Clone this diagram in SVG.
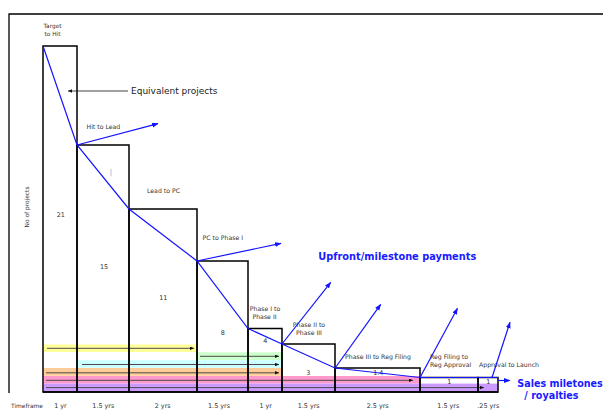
<svg xmlns="http://www.w3.org/2000/svg" width="603" height="412" viewBox="0 0 603 412">
<style>
.bar{fill:none;stroke:#000;stroke-width:1.5}
.lbl{font-family:"DejaVu Sans",Verdana,sans-serif;font-size:6.2px;fill:#333;text-anchor:middle}
.num{font-family:"DejaVu Sans",Verdana,sans-serif;font-size:6.4px;fill:#333;text-anchor:middle}
.blue{stroke:#1414ff;stroke-width:1.2;fill:none}
.marr{stroke:#1414ff;stroke-width:1.2;fill:none;marker-end:url(#bh)}
.big{font-family:"DejaVu Sans",Verdana,sans-serif;font-weight:bold;font-size:9.8px;fill:#1a1aff}
.bl{stroke:#4a4a4a;stroke-width:1;marker-end:url(#kh)}
</style>
<defs>
<marker id="bh" markerUnits="userSpaceOnUse" markerWidth="7" markerHeight="6" refX="6" refY="2.5" orient="auto"><path d="M0,0 L6.5,2.5 L0,5 z" fill="#1414ff"/></marker>
<marker id="kh" markerUnits="userSpaceOnUse" markerWidth="5" markerHeight="4" refX="4" refY="1.75" orient="auto"><path d="M0,0 L4,1.75 L0,3.5 z" fill="#111"/></marker>
</defs>
<rect width="603" height="412" fill="#fff"/>
<g id="frame">
<path d="M603,14 H9 V393" fill="none" stroke="#000" stroke-width="1.3"/>
<text x="27" y="207" transform="rotate(-90 27 207)" class="lbl" style="font-size:5.9px" dy="2">No of projects</text>
<text x="11" y="407.5" class="lbl" style="font-size:5.9px;text-anchor:start">Timeframe</text>
</g>
<g id="bands">
<rect x="44" y="344.5" width="152" height="7.5" fill="#FFFF99"/>
<rect x="197" y="352.3" width="84" height="7.7" fill="#CCFFCC"/>
<rect x="78" y="360.2" width="203" height="7.6" fill="#CCFFFF"/>
<rect x="44" y="368" width="237" height="7.8" fill="#FFCC99"/>
<rect x="44" y="376" width="376" height="7.6" fill="#FF99CC"/>
<rect x="44" y="383.6" width="454" height="8.4" fill="#CC99FF"/>
<line x1="47" y1="348.3" x2="194" y2="348.3" class="bl"/>
<line x1="200" y1="356.3" x2="279" y2="356.3" class="bl"/>
<line x1="82" y1="364.5" x2="279" y2="364.5" class="bl"/>
<line x1="46" y1="372.8" x2="279" y2="372.8" class="bl"/>
<line x1="46" y1="380.3" x2="413" y2="380.3" class="bl"/>
<line x1="46" y1="387.6" x2="484" y2="387.6" class="bl"/>
</g>
<g id="stage-target-to-hit">
<rect x="43" y="46" width="34" height="346" class="bar"/>
<text x="52.5" y="28" class="lbl" style="font-size:5.8px">Target</text>
<text x="52.5" y="35.5" class="lbl" style="font-size:5.8px">to Hit</text>
<text x="60.7" y="216.5" class="num">21</text>
<text x="60.5" y="407.5" class="num">1 yr</text>
</g>
<g id="stage-hit-to-lead">
<rect x="77" y="145" width="52" height="247" class="bar"/>
<text x="103.4" y="128.5" class="lbl">Hit to Lead</text>
<text x="104" y="268.5" class="num">15</text>
<line x1="111" y1="169" x2="111" y2="176" stroke="#999" stroke-width="0.6"/>
<text x="103.3" y="407.5" class="num">1.5 yrs</text>
</g>
<g id="stage-lead-to-pc">
<rect x="129" y="209" width="68" height="183" class="bar"/>
<text x="163.5" y="192.5" class="lbl">Lead to PC</text>
<text x="163.3" y="300" class="num">11</text>
<text x="162.7" y="407.5" class="num">2 yrs</text>
</g>
<g id="stage-pc-to-phase1">
<rect x="197" y="261" width="51" height="131" class="bar"/>
<text x="222.8" y="240" class="lbl">PC to Phase I</text>
<text x="222.7" y="335" class="num">8</text>
<text x="219" y="407.5" class="num">1.5 yrs</text>
</g>
<g id="stage-phase1-to-phase2">
<rect x="248" y="328.5" width="34" height="63.5" class="bar"/>
<text x="265" y="311" class="lbl">Phase I to</text>
<text x="264.5" y="319" class="lbl">Phase II</text>
<text x="265.3" y="343" class="num">4</text>
<text x="265.7" y="407.5" class="num">1 yr</text>
</g>
<g id="stage-phase2-to-phase3">
<rect x="282" y="344" width="53" height="48" class="bar"/>
<text x="309" y="327" class="lbl">Phase II to</text>
<text x="309" y="335" class="lbl">Phase III</text>
<text x="308.3" y="375" class="num">3</text>
<text x="308.7" y="407.5" class="num">1.5 yrs</text>
</g>
<g id="stage-phase3-to-filing">
<rect x="335" y="368" width="85" height="24" class="bar"/>
<text x="378" y="359" class="lbl">Phase III to Reg Filing</text>
<text x="378.3" y="375" class="num">1.4</text>
<text x="377.7" y="407.5" class="num">2.5 yrs</text>
</g>
<g id="stage-filing-to-approval">
<rect x="420" y="377.5" width="58" height="14.5" class="bar"/>
<text x="430" y="359" class="lbl" style="text-anchor:start">Reg Filing to</text>
<text x="430" y="367" class="lbl" style="text-anchor:start">Reg Approval</text>
<text x="449.3" y="383.5" class="num">1</text>
<text x="448.3" y="407.5" class="num">1.5 yrs</text>
</g>
<g id="stage-approval-to-launch">
<rect x="478" y="377.5" width="20" height="14.5" class="bar"/>
<text x="509" y="367" class="lbl">Approval to Launch</text>
<text x="488.3" y="383.5" class="num">1</text>
<text x="488.3" y="407.5" class="num">.25 yrs</text>
</g>
<line x1="43" y1="392" x2="498" y2="392" stroke="#000" stroke-width="1.5"/>
<g id="connectors">
<polyline points="43,46 77,145 129,209 197,261 248,328.5 282,344 335,368 420,377.5 498,377.5" class="blue"/>
<line x1="77" y1="145" x2="158" y2="123.7" class="marr"/>
<line x1="197" y1="261" x2="281" y2="243.3" class="marr"/>
<line x1="282" y1="344" x2="330.7" y2="282.3" class="marr"/>
<line x1="335.5" y1="367.5" x2="380.7" y2="304.3" class="marr"/>
<line x1="420" y1="377.5" x2="457.5" y2="308.3" class="marr"/>
<line x1="492" y1="377.5" x2="510" y2="322.3" class="marr"/>
<line x1="498" y1="380.5" x2="510" y2="380.5" class="marr"/>
<line x1="128" y1="91" x2="68" y2="91" stroke="#111" stroke-width="0.8" marker-end="url(#kh)"/>
</g>
<g id="annotations">
<text x="131" y="94.3" style="font-family:'DejaVu Sans',Verdana,sans-serif;font-size:9px;fill:#222">Equivalent projects</text>
<text x="318.3" y="260" class="big">Upfront/milestone payments</text>
<text x="517.3" y="387" class="big" style="font-size:9.6px">Sales miletones</text>
<text x="524.3" y="399" class="big" style="font-size:9.6px">/ royalties</text>
</g>
</svg>
